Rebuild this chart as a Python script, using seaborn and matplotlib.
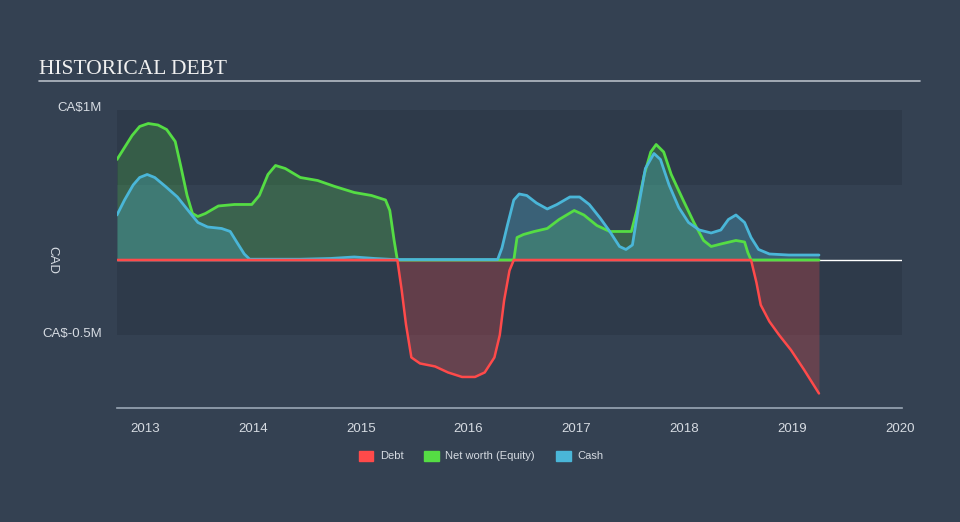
import matplotlib.pyplot as plt
import matplotlib.patches as mpatches
import numpy as np
import pandas as pd
import seaborn as sns

# Net worth (equity), CA$ millions.
equity_year = [
    2012.74, 2012.81, 2012.88, 2012.95, 2013.03, 2013.12, 2013.20, 2013.28, 2013.33, 2013.39,
    2013.44, 2013.49, 2013.56, 2013.68, 2013.83, 2013.99, 2014.06, 2014.14, 2014.21, 2014.30,
    2014.44, 2014.60, 2014.76, 2014.94, 2015.10, 2015.23, 2015.27, 2015.31, 2015.34, 2015.38,
    2015.42, 2015.47, 2015.55, 2015.69, 2015.81, 2015.94, 2016.06, 2016.15, 2016.24, 2016.29,
    2016.33, 2016.38, 2016.42, 2016.45, 2016.51, 2016.61, 2016.73, 2016.84, 2016.98, 2017.07,
    2017.19, 2017.31, 2017.51, 2017.56, 2017.63, 2017.69, 2017.74, 2017.81, 2017.88, 2017.99,
    2018.09, 2018.18, 2018.25, 2018.36, 2018.48, 2018.56, 2018.59, 2018.62, 2018.67, 2018.71,
    2018.79, 2018.88, 2018.99, 2019.11, 2019.25,
]
equity = [
    0.67, 0.75, 0.83, 0.89, 0.91, 0.90, 0.87, 0.79, 0.63, 0.43,
    0.31, 0.29, 0.31, 0.36, 0.37, 0.37, 0.43, 0.57, 0.63, 0.61,
    0.55, 0.53, 0.49, 0.45, 0.43, 0.40, 0.33, 0.13, 0.0, -0.20,
    -0.43, -0.65, -0.69, -0.71, -0.75, -0.78, -0.78, -0.75, -0.65, -0.50,
    -0.27, -0.07, 0.0, 0.15, 0.17, 0.19, 0.21, 0.27, 0.33, 0.30,
    0.23, 0.19, 0.19, 0.33, 0.57, 0.72, 0.77, 0.72, 0.57, 0.40,
    0.25, 0.13, 0.09, 0.11, 0.13, 0.12, 0.05, 0.0, -0.15, -0.30,
    -0.41, -0.50, -0.60, -0.73, -0.89,
]

# Cash, CA$ millions.
cash_year = [
    2012.74, 2012.81, 2012.89, 2012.95, 2013.02, 2013.09, 2013.19, 2013.30, 2013.40, 2013.49,
    2013.58, 2013.71, 2013.79, 2013.85, 2013.92, 2013.97, 2014.44, 2014.72, 2014.94, 2015.13,
    2015.31, 2016.27, 2016.31, 2016.36, 2016.42, 2016.47, 2016.54, 2016.63, 2016.73, 2016.82,
    2016.94, 2017.03, 2017.12, 2017.22, 2017.31, 2017.40, 2017.46, 2017.52, 2017.58, 2017.64,
    2017.72, 2017.78, 2017.86, 2017.95, 2018.04, 2018.14, 2018.25, 2018.34, 2018.41, 2018.48,
    2018.56, 2018.62, 2018.69, 2018.79, 2018.97, 2019.25,
]
cash = [
    0.30, 0.40, 0.50, 0.55, 0.57, 0.55, 0.49, 0.42, 0.33, 0.25,
    0.22, 0.21, 0.19, 0.12, 0.04, 0.005, 0.005, 0.01, 0.02, 0.01,
    0.003, 0.003, 0.08, 0.23, 0.40, 0.44, 0.43, 0.38, 0.34, 0.37,
    0.42, 0.42, 0.37, 0.28, 0.19, 0.09, 0.07, 0.10, 0.37, 0.61,
    0.71, 0.67, 0.50, 0.35, 0.25, 0.20, 0.18, 0.20, 0.27, 0.30,
    0.25, 0.15, 0.07, 0.04, 0.033, 0.033,
]

year_ticks = [2013, 2014, 2015, 2016, 2017, 2018, 2019, 2020]
legend_labels = ["Debt", "Net worth (Equity)", "Cash"]

BG = "#344152"
BAND = "#2e3a4a"
RED = "#ff4a4a"
GREEN = "#55dd44"
BLUE = "#4ab6d8"
TEXT = "#d6dbe2"

sns.set_style("dark", {"axes.facecolor": BG, "figure.facecolor": BG})
plt.rcParams["font.family"] = ["Liberation Sans", "DejaVu Sans"]

eq_df = pd.DataFrame({"year": equity_year, "equity": equity})
eq_df["positive"] = eq_df["equity"].clip(lower=0)
eq_df["negative"] = eq_df["equity"].clip(upper=0)
cash_df = pd.DataFrame({"year": cash_year, "cash": cash})

fig = plt.figure(figsize=(9.6, 5.22), dpi=100)
ax = fig.add_axes([117 / 960, 1 - 408 / 522, 785 / 960, 298 / 522])
ax.set_facecolor(BG)

# Alternating horizontal bands.
ax.axhspan(0.5, 1.0, color=BAND, zorder=0, lw=0)
ax.axhspan(-0.5, 0.0, color=BAND, zorder=0, lw=0)
ax.axhline(0, color="white", lw=1, zorder=1)

ax.fill_between(eq_df["year"], 0, eq_df["positive"], color=GREEN, alpha=0.22, lw=0, zorder=2)
ax.fill_between(cash_df["year"], 0, cash_df["cash"], color=BLUE, alpha=0.28, lw=0, zorder=2)
ax.fill_between(eq_df["year"], 0, eq_df["negative"], color=RED, alpha=0.25, lw=0, zorder=2)

sns.lineplot(data=eq_df, x="year", y="positive", color=GREEN, lw=2, ax=ax, zorder=3)
sns.lineplot(data=cash_df, x="year", y="cash", color=BLUE, lw=2, ax=ax, zorder=4)
sns.lineplot(data=eq_df, x="year", y="negative", color=RED, lw=1.8, ax=ax, zorder=5)

ax.set_xlim(2012.74, 2020.02)
ax.set_ylim(-0.987, 1.0)
ax.set_xticks(year_ticks)
ax.set_xticklabels([str(y) for y in year_ticks])
ax.set_yticks([])
ax.set_xlabel("")
ax.set_ylabel("")
ax.tick_params(axis="x", colors="#9aa6b5", length=8, width=1, direction="out",
               labelcolor=TEXT, labelsize=9.5, pad=3)
for side in ["top", "left", "right"]:
    ax.spines[side].set_visible(False)
ax.spines["bottom"].set_color("#9aa6b5")
ax.spines["bottom"].set_linewidth(1.2)

# Y labels drawn at figure level.
fig.text(102 / 960, 1 - 108 / 522, "CA$1M", color=TEXT, fontsize=9.5, ha="right", va="center")
fig.text(102 / 960, 1 - 334 / 522, "CA$-0.5M", color=TEXT, fontsize=9.5, ha="right", va="center")
fig.text(52 / 960, 1 - 260 / 522, "CAD", color=TEXT, fontsize=9.5, rotation=270,
         ha="center", va="center")

# Title with underline.
fig.text(39 / 960, 1 - 74 / 522, "HISTORICAL DEBT", color="#f0f0f0", fontsize=15.5,
         family=["Liberation Serif", "DejaVu Serif"], ha="left", va="baseline")
fig.add_artist(plt.Line2D([39 / 960, 920 / 960], [1 - 81 / 522, 1 - 81 / 522],
                          color="#b5bcc6", lw=1.2))

handles = [mpatches.Patch(color=c, label=l) for c, l in zip([RED, GREEN, BLUE], legend_labels)]
leg = fig.legend(handles=handles, loc="center", bbox_to_anchor=(481 / 960, 1 - 456 / 522),
                 ncol=3, frameon=False, fontsize=8, handlelength=1.3, handleheight=1.0,
                 columnspacing=1.9, handletextpad=0.6)
for t in leg.get_texts():
    t.set_color(TEXT)

fig.savefig("out.png", dpi=100, facecolor=BG)
